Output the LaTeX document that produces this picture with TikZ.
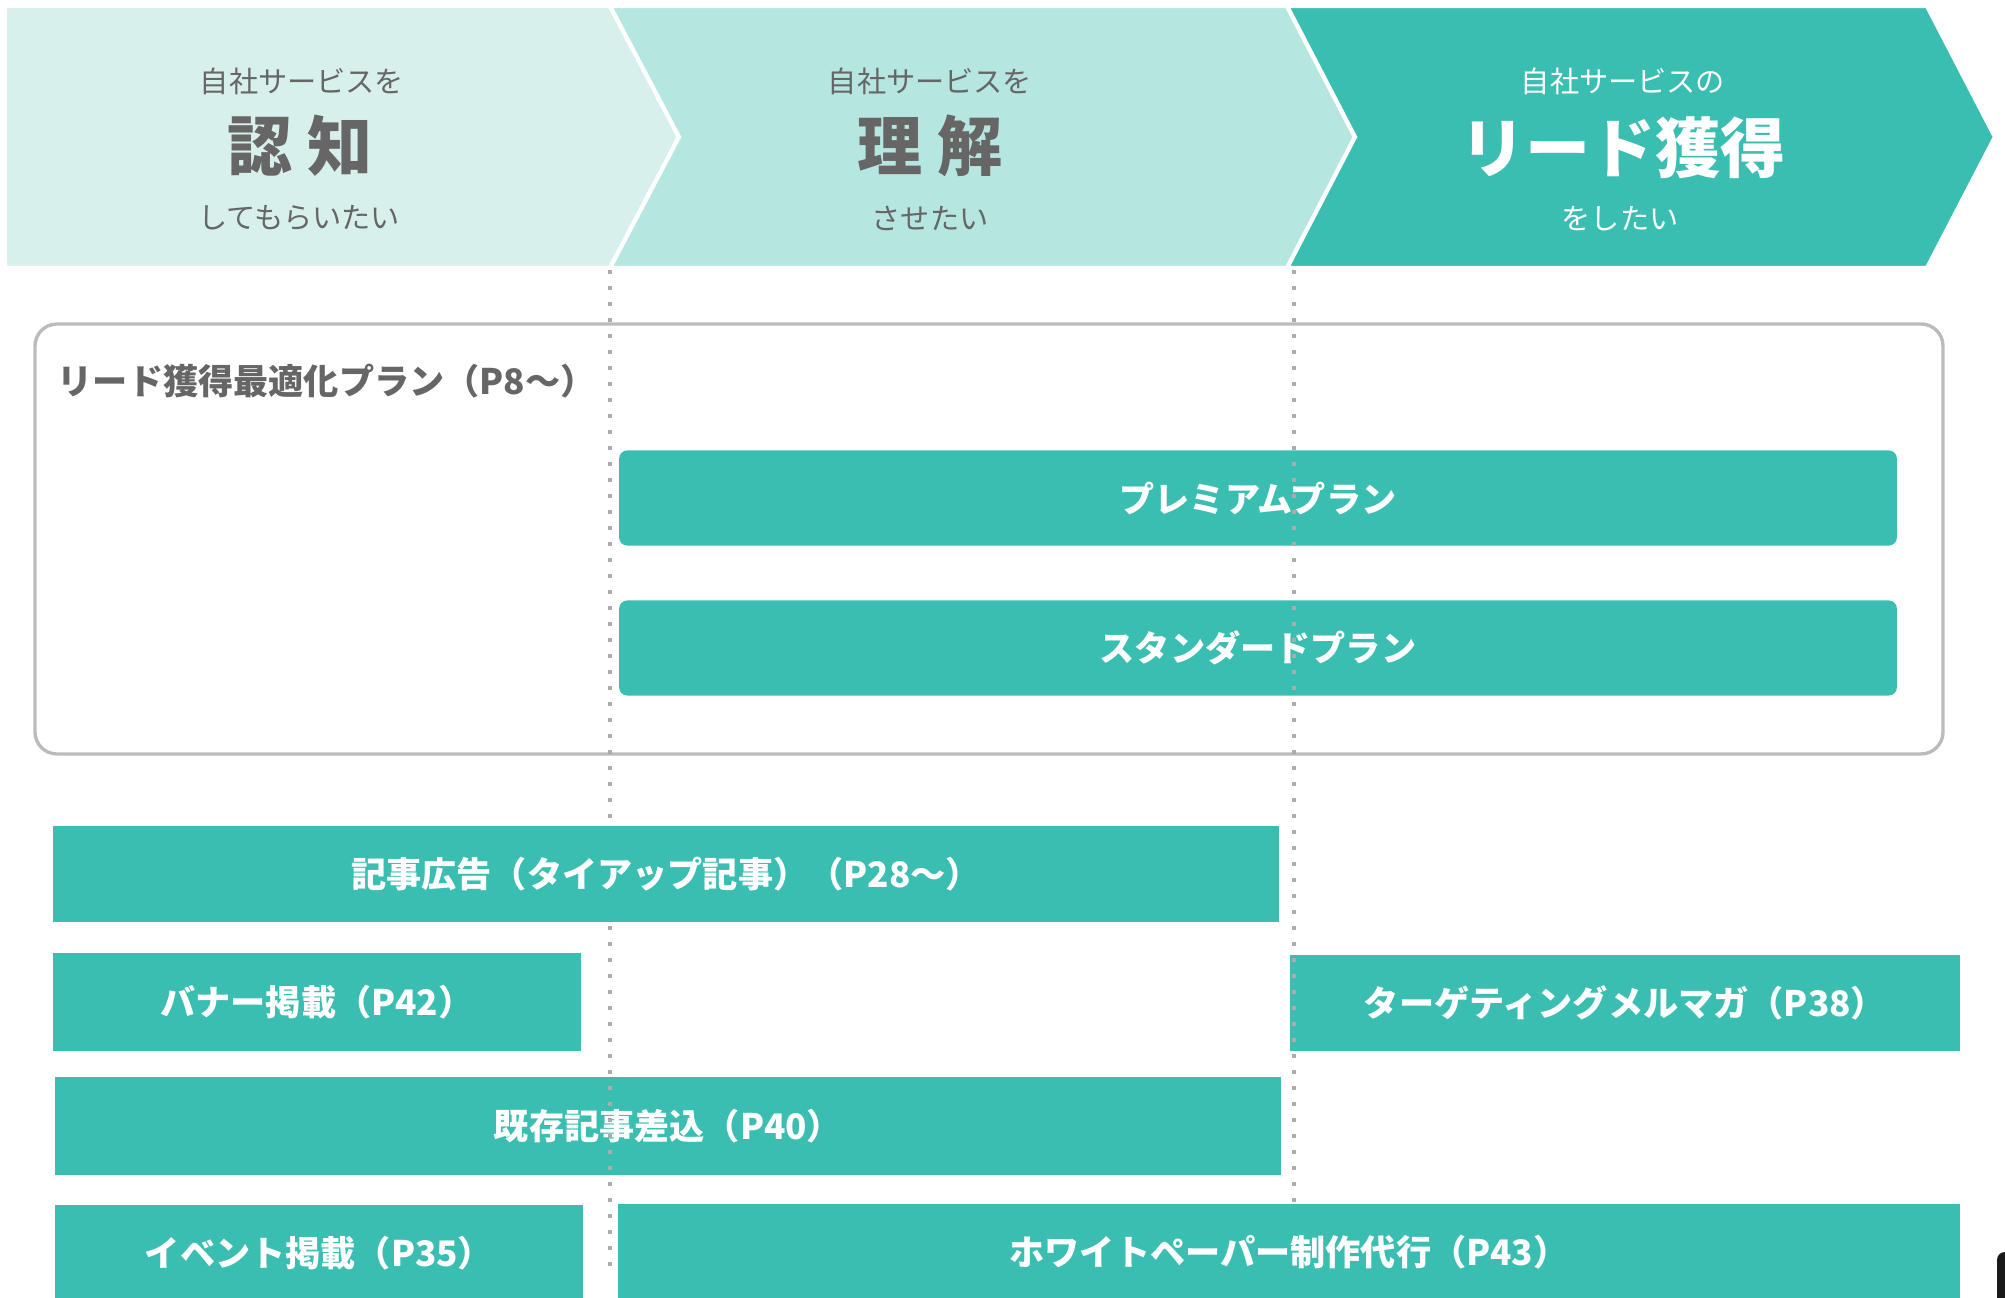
\documentclass[tikz,border=0pt]{standalone}
\usepackage{fontspec}
\setmainfont{Noto Sans CJK JP}
\usepackage{tikz}
\definecolor{pale}{HTML}{D8F0EC}
\definecolor{mint}{HTML}{B5E6E0}
\definecolor{jade}{HTML}{3ABEB1}
\definecolor{ink}{HTML}{666666}
\definecolor{frame}{HTML}{BBBBBB}

\begin{document}
\begin{tikzpicture}[x=0.01cm,y=-0.01cm,
  small/.style={font=\fontsize{8.3pt}{10pt}\selectfont},
  big/.style={font=\fontsize{18.5pt}{22pt}\selectfont\bfseries},
  lbl/.style={font=\fontsize{10pt}{12pt}\selectfont\bfseries,text=white},
  bar/.style={fill=jade,inner sep=0pt,minimum height=0.95cm},
  guide/.style={ink!55,line width=1.14pt,dash pattern=on 1.14pt off 3.41pt}]
\useasboundingbox (0,0) rectangle (2005,1298);
% chevrons
\draw[white,line width=1.2pt,fill=pale] (5,6) -- (610,6) -- (679,137) -- (610,268) -- (5,268) -- cycle;
\draw[white,line width=1.2pt,fill=mint] (610,6) -- (1287,6) -- (1355,137) -- (1287,268) -- (610,268) -- (679,137) -- cycle;
\draw[white,line width=1.2pt,fill=jade] (1287,6) -- (1927,6) -- (1995,137) -- (1927,268) -- (1287,268) -- (1355,137) -- cycle;
\node[small,text=ink] (ninchitop) at (302,81) {自社サービスを};
\node[big,text=ink] (ninchi) at (300,146) {認 知};
\node[small,text=ink] (ninchibot) at (299,218) {してもらいたい};
\node[small,text=ink] (rikaitop) at (930,81) {自社サービスを};
\node[big,text=ink] (rikai) at (930,146) {理 解};
\node[small,text=ink] (rikaibot) at (930,218) {させたい};
\node[small,text=white] (leadtop) at (1623,81) {自社サービスの};
\node[big,text=white] (lead) at (1623,148) {リード獲得};
\node[small,text=white] (leadbot) at (1620,219) {をしたい};
% plan frame
\draw[frame,line width=0.95pt,rounded corners=0.22cm] (35,324) rectangle (1943,754);
\node[lbl,text=ink,anchor=west,inner sep=0pt] (optplan) at (57,381) {リード獲得最適化プラン（P8～）};
\node[bar,lbl,rounded corners=0.08cm,minimum width=12.77cm] (premium) at (1258,498) {プレミアムプラン};
\node[bar,lbl,rounded corners=0.08cm,minimum width=12.77cm] (standard) at (1258,648) {スタンダードプラン};
% menus
\node[bar,lbl,minimum width=5.27cm,minimum height=0.98cm] (banner) at (317,1002) {バナー掲載（P42）};
\node[bar,lbl,minimum width=6.69cm] (target) at (1625,1003) {ターゲティングメルマガ（P38）};
\node[bar,lbl,minimum width=12.25cm,minimum height=0.98cm] (kizon) at (668,1126) {既存記事差込（P40）};
\node[bar,lbl,minimum width=5.27cm,minimum height=0.96cm] (event) at (319,1253) {イベント掲載（P35）};
\node[bar,lbl,minimum width=13.41cm,minimum height=0.96cm] (paper) at (1289,1252) {ホワイトペーパー制作代行（P43）};
\fill[black!90,rounded corners=0.08cm] (1997,1330) -- (1997,1252) -- (2040,1252) -- (2040,1330) -- cycle;
% guides
\draw[guide] (610,270) -- (610,1275);
\draw[guide] (1294,270) -- (1294,1202);
\node[bar,lbl,minimum width=12.25cm] (kiji) at (666,874) {記事広告（タイアップ記事）（P28～）};
\end{tikzpicture}
\end{document}
